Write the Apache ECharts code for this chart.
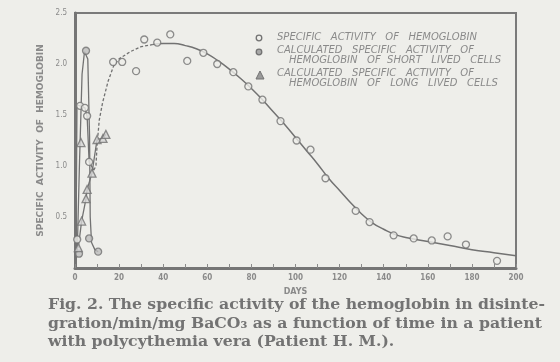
<!DOCTYPE html>
<html><head><meta charset="utf-8">
<script src="https://cdn.jsdelivr.net/npm/echarts@6/dist/echarts.min.js"></script>
<style>html,body{margin:0;padding:0;background:#eeeeea;}#c{width:560px;height:362px;}</style>
</head><body><div id="c"></div>
<script>
// ---- data ----
const xTicks = [0, 20, 40, 60, 80, 100, 120, 140, 160, 180, 200];
const yTicks = [0.5, 1.0, 1.5, 2.0, 2.5];
// observed specific activity of hemoglobin (open circles)
const obsDays = [1, 2.3, 4.5, 5.5, 6.4, 17.3, 21.4, 27.7, 31.4, 37.3, 43.2, 50.9, 58.2, 64.5, 71.8, 78.6, 85, 93.2, 100.5, 106.8, 113.6, 127.3, 133.6, 144.5, 153.6, 161.8, 169, 177.3, 191.4];
const obsVals = [0.28, 1.59, 1.57, 1.49, 1.04, 2.02, 2.02, 1.93, 2.24, 2.21, 2.29, 2.03, 2.11, 2.0, 1.92, 1.78, 1.65, 1.44, 1.25, 1.16, 0.88, 0.56, 0.45, 0.32, 0.29, 0.27, 0.31, 0.23, 0.07];
// early observed connecting line
const obsLineDays = [0.4, 0.9, 2.3, 4.5, 5.5, 6.4, 8.5];
const obsLineVals = [0.1, 1.6, 1.59, 1.57, 1.49, 1.04, 0.96];
// calculated, short lived cells
const shortDays = [1.8, 5, 6.4, 10.5];
const shortVals = [0.14, 2.13, 0.29, 0.16];
const shortLineDays = [1.0, 2.0, 3.2, 4.3, 5, 5.8, 6.6, 6.9, 7.5, 9, 10.5];
const shortLineVals = [0.15, 1.0, 1.9, 2.12, 2.13, 2.05, 1.3, 0.5, 0.25, 0.18, 0.16];
// calculated, long lived cells
const longDays = [1.5, 2.7, 3, 5, 5.5, 7.7, 10, 12.7, 14];
const longVals = [0.2, 1.23, 0.46, 0.68, 0.77, 0.93, 1.26, 1.27, 1.31];
const longLineDays = [1.5, 3, 5, 5.5, 7.7, 10, 12.7, 14];
const longLineVals = [0.2, 0.46, 0.68, 0.77, 0.93, 1.26, 1.27, 1.31];
// fitted curve (dashed rise, solid decline)
const fitDashDays = [8.5, 9.5, 10, 11, 12.5, 15, 17.5, 20, 25, 30, 35];
const fitDashVals = [0.96, 1.0, 1.2, 1.45, 1.62, 1.83, 1.98, 2.05, 2.12, 2.17, 2.19];
const fitDays = [35, 40, 45, 50, 55, 60, 65, 70, 75, 80, 85, 90, 95, 100, 105, 110, 115, 120, 125, 130, 135, 140, 145, 150, 160, 170, 180, 190, 200];
const fitVals = [2.19, 2.2, 2.2, 2.18, 2.15, 2.1, 2.03, 1.95, 1.86, 1.76, 1.65, 1.53, 1.41, 1.28, 1.15, 1.02, 0.88, 0.76, 0.64, 0.53, 0.44, 0.38, 0.33, 0.3, 0.26, 0.22, 0.18, 0.15, 0.12];

const legendLabels = ['SPECIFIC   ACTIVITY   OF   HEMOGLOBIN', 'CALCULATED   SPECIFIC   ACTIVITY   OF', 'HEMOGLOBIN   OF  SHORT   LIVED   CELLS', 'CALCULATED   SPECIFIC   ACTIVITY   OF', 'HEMOGLOBIN   OF   LONG   LIVED   CELLS'];
const captionLines = ['Fig. 2. The specific activity of the hemoglobin in disinte-', 'gration/min/mg BaCO\u2083 as a function of time in a patient', 'with polycythemia vera (Patient H. M.).'];

const zip = (a, b) => a.map((v, i) => [v, b[i]]);
const INK = '#727272';
const TXT = '#8a8a8a';
const LEG_FONT = 'italic 10px "DejaVu Sans"';
const CAP_FONT = 'bold 15.7px "DejaVu Serif"';

const chart = echarts.init(document.getElementById('c'));
const lineBase = { type: 'line', showSymbol: false, symbol: 'none', silent: true, lineStyle: { color: INK, width: 1.3 }, z: 2 };
chart.setOption({
  backgroundColor: '#eeeeea',
  animation: false,
  grid: { left: 75, right: 44, top: 13, bottom: 94, show: true, borderColor: '#7a7a7a', borderWidth: 2 },
  xAxis: {
    type: 'value', min: 0, max: 200, interval: 10,
    name: 'DAYS', nameLocation: 'middle', nameGap: 20,
    nameTextStyle: { color: TXT, fontSize: 8, fontWeight: 'bold', fontFamily: 'DejaVu Sans' },
    axisLine: { lineStyle: { color: '#757575', width: 3 } },
    axisTick: { inside: true, length: 4, lineStyle: { color: '#8a8a8a', width: 1 } },
    axisLabel: { color: TXT, fontSize: 8, fontWeight: 'bold', fontFamily: 'DejaVu Sans Condensed', margin: 6,
      formatter: v => (xTicks.indexOf(v) >= 0 ? String(v) : '') },
    splitLine: { show: false }
  },
  yAxis: {
    type: 'value', min: 0, max: 2.5, interval: 0.5,
    name: 'SPECIFIC  ACTIVITY  OF  HEMOGLOBIN', nameLocation: 'middle', nameGap: 27, nameRotate: 90,
    nameTextStyle: { color: TXT, fontSize: 9, fontWeight: 'bold', fontFamily: 'DejaVu Sans' },
    axisLine: { show: true, lineStyle: { color: '#757575', width: 3 } },
    axisTick: { show: false },
    axisLabel: { color: TXT, fontSize: 8, fontFamily: 'DejaVu Sans Condensed', margin: 8,
      formatter: v => { const t = yTicks.find(y => Math.abs(y - v) < 1e-6); return t === undefined ? '' : t.toFixed(1); } },
    splitLine: { show: false }
  },
  series: [
    Object.assign({}, lineBase, { data: zip(fitDashDays, fitDashVals), lineStyle: { color: INK, width: 1.3, type: [3, 2] } }),
    Object.assign({}, lineBase, { data: zip(fitDays, fitVals), smooth: true, lineStyle: { color: INK, width: 1.5 } }),
    Object.assign({}, lineBase, { data: zip(obsLineDays, obsLineVals) }),
    Object.assign({}, lineBase, { data: zip(shortLineDays, shortLineVals) }),
    Object.assign({}, lineBase, { data: zip(longLineDays, longLineVals) }),
    { type: 'scatter', data: zip(obsDays, obsVals), symbol: 'circle', symbolSize: 7, z: 5,
      itemStyle: { color: '#eeeeea', borderColor: INK, borderWidth: 1.3 } },
    { type: 'scatter', data: zip(shortDays, shortVals), symbol: 'circle', symbolSize: 7, z: 5,
      itemStyle: { color: '#bdbdbd', borderColor: INK, borderWidth: 1.3 } },
    { type: 'scatter', data: zip(longDays, longVals), symbol: 'triangle', symbolSize: 8, z: 5,
      itemStyle: { color: '#d4d4d4', borderColor: INK, borderWidth: 1.3 } }
  ],
  graphic: [
    { type: 'circle', shape: { cx: 259, cy: 38, r: 2.8 }, style: { fill: '#eeeeea', stroke: INK, lineWidth: 1.3 } },
    { type: 'circle', shape: { cx: 259, cy: 52, r: 2.8 }, style: { fill: '#a8a8a8', stroke: INK, lineWidth: 1.3 } },
    { type: 'polygon', shape: { points: [[260, 71], [256, 79], [264, 79]] }, style: { fill: '#9a9a9a', stroke: INK, lineWidth: 1 } },
    { type: 'text', left: 277, top: 32, style: { text: legendLabels[0], fill: TXT, font: LEG_FONT } },
    { type: 'text', left: 277, top: 45, style: { text: legendLabels[1], fill: TXT, font: LEG_FONT } },
    { type: 'text', left: 289, top: 55, style: { text: legendLabels[2], fill: TXT, font: LEG_FONT } },
    { type: 'text', left: 277, top: 68, style: { text: legendLabels[3], fill: TXT, font: LEG_FONT } },
    { type: 'text', left: 289, top: 78, style: { text: legendLabels[4], fill: TXT, font: LEG_FONT } },
    { type: 'text', left: 48, top: 297, style: { text: captionLines[0], fill: '#737373', font: CAP_FONT } },
    { type: 'text', left: 48, top: 316, style: { text: captionLines[1], fill: '#737373', font: CAP_FONT } },
    { type: 'text', left: 48, top: 334, style: { text: captionLines[2], fill: '#737373', font: CAP_FONT } }
  ]
});
</script></body></html>
